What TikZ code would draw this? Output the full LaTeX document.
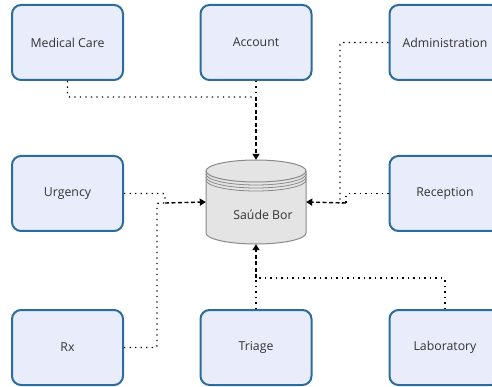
\documentclass[tikz,border=0pt]{standalone}
\usepackage{fontspec}
\setmainfont{Open Sans}
\usetikzlibrary{arrows.meta}
\definecolor{boxline}{HTML}{2B6C9C}
\definecolor{boxfill}{HTML}{E9EDFB}
\definecolor{dbfill}{HTML}{E4E4E4}
\definecolor{dbline}{HTML}{8A8A8A}
\definecolor{label}{HTML}{333333}
\tikzset{
  module/.style={draw=boxline, fill=boxfill, line width=2pt, rounded corners=9pt,
    minimum width=111pt, minimum height=75pt, text=label,
    font=\fontsize{12.3}{14}\selectfont, inner sep=0pt},
  link/.style={line width=1.4pt, dash pattern=on 1.3pt off 4.2pt, rounded corners=2pt},
  feed/.style={line width=1.4pt, dash pattern=on 4pt off 2.5pt, -{Triangle[width=7pt,length=6pt]}},
}
\begin{document}
\begin{tikzpicture}[x=1pt, y=-1pt]
  \useasboundingbox (0,0) rectangle (492,387);
  \clip (0,0) rectangle (492,387);

  % application modules
  \node[module] (med) at (67.5,42.5) {Medical Care};
  \node[module] (acc) at (256,42.5) {Account};
  \node[module] (adm) at (445,42.5) {Administration};
  \node[module] (urg) at (67.5,193.5) {Urgency};
  \node[module] (rec) at (445,193.5) {Reception};
  \node[module] (rx)  at (67.5,347.5) {Rx};
  \node[module] (tri) at (256,347.5) {Triage};
  \node[module] (lab) at (445,347.5) {Laboratory};

  % database cylinder
  \node[minimum width=100pt, minimum height=84pt, inner sep=0pt] (db) at (256,202) {};
  \fill[dbfill] (206,171) -- (206,233) arc[start angle=180, end angle=360, x radius=50, y radius=-11]
    -- (306,171) arc[start angle=0, end angle=180, x radius=50, y radius=-11] -- cycle;
  \draw[dbline, line width=1pt] (206,171) -- (206,233) arc[start angle=180, end angle=360, x radius=50, y radius=-11] -- (306,171);
  \draw[dbline, line width=1pt] (256,171) ellipse[x radius=50, y radius=11];
  \foreach \d in {3,6,9}
    \draw[dbline, line width=0.8pt] (206,171+\d) arc[start angle=180, end angle=360, x radius=50, y radius=-11];
  \node[font=\fontsize{12.3}{14}\selectfont, text=label] (dbname) at (263,215) {Saúde Bor};

  % junctions where the feeds meet
  \coordinate (jT) at (256,97);
  \coordinate (jB) at (256,278);
  \coordinate (jL) at (165,203);
  \coordinate (jL2) at (157,203);
  \coordinate (jR) at (346,203);
  \coordinate (jR2) at (340,203);

  % top feeds
  \draw[link] (med.south) |- (jT);
  \draw[link] (acc.south) -- (jT);
  \draw[feed] (jT) -- (db.north);

  % left feeds
  \draw[link] (urg.east) -| (jL);
  \draw[link] (rx.east) -| (jL2) -- (jL);
  \draw[feed] (jL) -- (db.west);

  % right feeds
  \draw[link] (rec.west) -| (jR);
  \draw[link] (adm.west) -| (jR2) -- (jR);
  \draw[feed] (jR) -- (db.east);

  % bottom feeds
  \draw[link] (lab.north) |- (jB);
  \draw[link] (tri.north) -- (jB);
  \draw[feed] (jB) -- (db.south);
\end{tikzpicture}
\end{document}
